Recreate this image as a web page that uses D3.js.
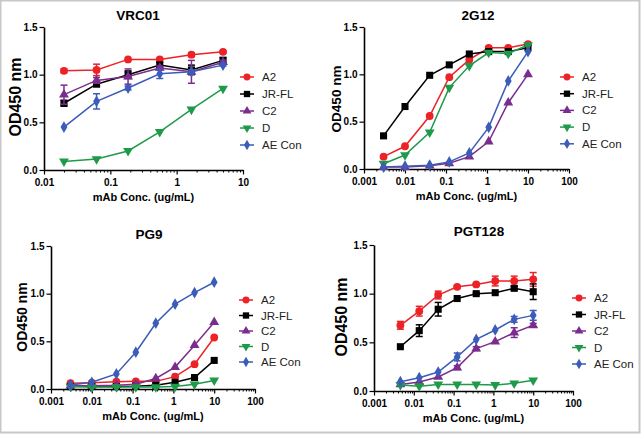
<!DOCTYPE html>
<html>
<head>
<meta charset="utf-8">
<script src="https://cdn.jsdelivr.net/npm/d3@7"></script>
<style>
  body { margin: 0; background: #fff; }
  svg { display: block; font-family: "Liberation Sans", Arial, sans-serif; }
</style>
</head>
<body>
<svg id="chart"></svg>
<script>
const width = 642;
const height = 436;

const seriesNames = ["A2", "JR-FL", "C2", "D", "AE Con"];
const seriesColors = ["#ec2227", "#000000", "#7b2d8e", "#1f9a4b", "#3b5cb8"];
const seriesSymbols = [d3.symbolCircle, d3.symbolSquare, d3.symbolTriangle, "down", d3.symbolDiamond];

const yTicks = [0, 0.5, 1.0, 1.5];

// concentrations (ug/mL)
const concVRC01 = [0.02, 0.062, 0.185, 0.556, 1.67, 5];
const conc2G12 = [0.003, 0.01, 0.04, 0.12, 0.37, 1.1, 3.3, 10];
const concPG9 = [0.003, 0.01, 0.04, 0.12, 0.37, 1.1, 3.3, 10];
const concPGT128 = [0.0046, 0.0137, 0.041, 0.123, 0.37, 1.11, 3.33, 10];

// VRC01
const vrc01A2 = [1.04, 1.05, 1.16, 1.16, 1.21, 1.24];
const vrc01JRFL = [0.70, 0.90, 1.00, 1.10, 1.05, 1.15];
const vrc01C2 = [0.79, 0.94, 0.98, 1.07, 1.03, 1.13];
const vrc01D = [0.09, 0.115, 0.20, 0.40, 0.635, 0.855];
const vrc01AE = [0.45, 0.72, 0.86, 1.01, 1.03, 1.10];
const vrc01A2Err = [0.02, 0.06, 0, 0, 0.02, 0.01];
const vrc01JRFLErr = [0.03, 0.02, 0.04, 0.03, 0.05, 0.03];
const vrc01C2Err = [0.1, 0.03, 0.08, 0.02, 0.12, 0.02];
const vrc01DErr = [0, 0, 0, 0, 0, 0];
const vrc01AEErr = [0, 0.08, 0.02, 0.05, 0.02, 0.01];

// 2G12
const g12A2 = [0.13, 0.24, 0.56, 0.97, 1.155, 1.28, 1.28, 1.32];
const g12JRFL = [0.35, 0.66, 0.99, 1.10, 1.215, 1.24, 1.24, 1.28];
const g12C2 = [0.02, 0.02, 0.035, 0.06, 0.13, 0.29, 0.70, 1.0];
const g12D = [0.056, 0.148, 0.387, 0.86, 1.09, 1.23, 1.22, 1.31];
const g12AE = [0.02, 0.03, 0.04, 0.075, 0.17, 0.44, 0.93, 1.24];

// PG9
const pg9A2 = [0.06, 0.066, 0.077, 0.08, 0.08, 0.13, 0.26, 0.54];
const pg9JRFL = [0.025, 0.025, 0.025, 0.03, 0.04, 0.07, 0.12, 0.30];
const pg9C2 = [0.035, 0.035, 0.04, 0.05, 0.11, 0.23, 0.46, 0.70];
const pg9D = [0.025, 0.02, 0.02, 0.02, 0.02, 0.025, 0.05, 0.09];
const pg9AE = [0.042, 0.07, 0.158, 0.386, 0.69, 0.89, 1.01, 1.12];

// PGT128
const pgt128A2 = [0.675, 0.82, 0.986, 1.07, 1.095, 1.13, 1.13, 1.147];
const pgt128JRFL = [0.455, 0.62, 0.84, 0.95, 1.0, 1.01, 1.055, 1.02];
const pgt128C2 = [0.068, 0.092, 0.144, 0.24, 0.435, 0.507, 0.60, 0.675];
const pgt128D = [0.062, 0.05, 0.068, 0.068, 0.068, 0.062, 0.079, 0.11];
const pgt128AE = [0.096, 0.137, 0.195, 0.35, 0.53, 0.627, 0.736, 0.777];
const pgt128A2Err = [0.04, 0.05, 0.04, 0.01, 0.01, 0.05, 0.05, 0.07];
const pgt128JRFLErr = [0, 0.06, 0.07, 0, 0.01, 0, 0.02, 0.08];
const pgt128C2Err = [0, 0, 0, 0.02, 0.02, 0, 0.05, 0.02];
const pgt128DErr = [0, 0, 0, 0, 0, 0, 0, 0];
const pgt128AEErr = [0, 0, 0, 0.04, 0, 0, 0.03, 0.05];

const noErr = [0, 0, 0, 0, 0, 0, 0, 0];

const panels = [
  {
    title: "VRC01", conc: concVRC01, xDomain: [0.01, 10],
    values: [vrc01A2, vrc01JRFL, vrc01C2, vrc01D, vrc01AE],
    errors: [vrc01A2Err, vrc01JRFLErr, vrc01C2Err, vrc01DErr, vrc01AEErr],
    x0: 44, x1: 243, yTop: 27, yBottom: 170,
    titleX: 138, titleY: 20, yLabelX: 21, yLabelY: 97, yLabelSize: 16,
    legendX: 247, legendY: 77, legendStep: 17
  },
  {
    title: "2G12", conc: conc2G12, xDomain: [0.001, 100],
    values: [g12A2, g12JRFL, g12C2, g12D, g12AE],
    errors: [noErr, noErr, noErr, noErr, noErr],
    x0: 364, x1: 569, yTop: 27, yBottom: 169,
    titleX: 478, titleY: 20, yLabelX: 341, yLabelY: 99, yLabelSize: 13.5,
    legendX: 567, legendY: 77, legendStep: 16.7
  },
  {
    title: "PG9", conc: concPG9, xDomain: [0.001, 100],
    values: [pg9A2, pg9JRFL, pg9C2, pg9D, pg9AE],
    errors: [noErr, noErr, noErr, noErr, noErr],
    x0: 51, x1: 255, yTop: 246, yBottom: 389,
    titleX: 149, titleY: 239, yLabelX: 27, yLabelY: 317, yLabelSize: 14,
    legendX: 246, legendY: 300, legendStep: 15.5
  },
  {
    title: "PGT128", conc: concPGT128, xDomain: [0.001, 100],
    values: [pgt128A2, pgt128JRFL, pgt128C2, pgt128D, pgt128AE],
    errors: [pgt128A2Err, pgt128JRFLErr, pgt128C2Err, pgt128DErr, pgt128AEErr],
    x0: 374, x1: 573, yTop: 245, yBottom: 391,
    titleX: 479, titleY: 236, yLabelX: 347, yLabelY: 317, yLabelSize: 16,
    legendX: 579, legendY: 298, legendStep: 16.5
  }
];

const svg = d3.select("#chart").attr("width", width).attr("height", height);

svg.append("rect")
  .attr("x", 0.5).attr("y", 0.5)
  .attr("width", 639).attr("height", 432)
  .attr("fill", "#fff")
  .attr("stroke", "#c8c8c8")
  .attr("stroke-width", 2);

function symbolPath(sym, size) {
  if (sym === "down") {
    return d3.symbol(d3.symbolTriangle, size)();
  }
  return d3.symbol(sym, size)();
}
const symbolSizes = [48, 50, 42, 42, 40];

panels.forEach((p) => {
  const g = svg.append("g");

  const xScale = d3.scaleLog().domain(p.xDomain).range([p.x0, p.x1]);
  const yScale = d3.scaleLinear().domain([0, 1.5]).range([p.yBottom, p.yTop]);

  // decades and minor ticks
  const decades = [];
  const minors = [];
  for (let e = Math.round(Math.log10(p.xDomain[0])); e <= Math.round(Math.log10(p.xDomain[1])); e++) {
    decades.push(Math.pow(10, e));
    if (Math.pow(10, e) < p.xDomain[1]) {
      for (let k = 2; k <= 9; k++) minors.push(k * Math.pow(10, e));
    }
  }

  const fmt = (d) => (d >= 1 ? d3.format("d")(d) : String(+d.toPrecision(1)));

  g.append("g")
    .attr("transform", `translate(0,${p.yBottom})`)
    .call(d3.axisBottom(xScale).tickValues(minors).tickFormat("").tickSize(2.5).tickSizeOuter(0))
    .call((a) => a.select(".domain").remove());

  const xAxis = g.append("g")
    .attr("transform", `translate(0,${p.yBottom})`)
    .call(d3.axisBottom(xScale).tickValues(decades).tickFormat(fmt).tickSize(4.5).tickSizeOuter(0).tickPadding(4));

  const yAxis = g.append("g")
    .attr("transform", `translate(${p.x0},0)`)
    .call(d3.axisLeft(yScale).tickValues(yTicks).tickFormat(d3.format(".1f")).tickSize(4.5).tickSizeOuter(0).tickPadding(2));

  [xAxis, yAxis].forEach((a) => {
    a.select(".domain").attr("stroke-width", 1.6);
    a.selectAll(".tick line").attr("stroke-width", 1.2);
    a.selectAll(".tick text")
      .attr("font-size", 10)
      .attr("font-weight", "bold")
      .attr("font-family", "'Liberation Sans', Arial, sans-serif")
      .attr("fill", "#000");
  });
  g.selectAll(".tick line").attr("stroke", "#000");

  // title
  g.append("text")
    .attr("x", p.titleX).attr("y", p.titleY)
    .attr("text-anchor", "middle")
    .attr("font-size", 13.5).attr("font-weight", "bold")
    .text(p.title);

  // axis labels
  g.append("text")
    .attr("x", (p.x0 + p.x1) / 2).attr("y", p.yBottom + 31)
    .attr("text-anchor", "middle")
    .attr("font-size", 11).attr("font-weight", "bold")
    .text("mAb Conc. (ug/mL)");

  g.append("text")
    .attr("transform", `translate(${p.yLabelX},${p.yLabelY}) rotate(-90)`)
    .attr("text-anchor", "middle")
    .attr("font-size", p.yLabelSize).attr("font-weight", "bold")
    .text("OD450 nm");

  // series
  p.values.forEach((vals, si) => {
    const color = seriesColors[si];
    const pts = vals.map((v, i) => ({ x: p.conc[i], y: v, e: p.errors[si][i] }));
    const sg = g.append("g");

    sg.append("path")
      .datum(pts)
      .attr("fill", "none")
      .attr("stroke", color)
      .attr("stroke-width", 1.5)
      .attr("d", d3.line().x((d) => xScale(d.x)).y((d) => yScale(d.y)));

    const bars = sg.selectAll(".err")
      .data(pts.filter((d) => d.e > 0))
      .enter().append("g");
    bars.append("line")
      .attr("x1", (d) => xScale(d.x)).attr("x2", (d) => xScale(d.x))
      .attr("y1", (d) => yScale(d.y - d.e)).attr("y2", (d) => yScale(d.y + d.e))
      .attr("stroke", color).attr("stroke-width", 1.5);
    [-1, 1].forEach((s) => {
      bars.append("line")
        .attr("x1", (d) => xScale(d.x) - 3.5).attr("x2", (d) => xScale(d.x) + 3.5)
        .attr("y1", (d) => yScale(d.y + s * d.e)).attr("y2", (d) => yScale(d.y + s * d.e))
        .attr("stroke", color).attr("stroke-width", 1.5);
    });

    sg.selectAll(".pt")
      .data(pts)
      .enter().append("path")
      .attr("d", symbolPath(seriesSymbols[si], symbolSizes[si]))
      .attr("transform", (d) =>
        `translate(${xScale(d.x)},${yScale(d.y)})` + (seriesSymbols[si] === "down" ? " rotate(180)" : ""))
      .attr("fill", color);

    // legend
    const ly = p.legendY + si * p.legendStep;
    g.append("line")
      .attr("x1", p.legendX - 7).attr("x2", p.legendX + 7)
      .attr("y1", ly).attr("y2", ly)
      .attr("stroke", color).attr("stroke-width", 1.5);
    g.append("path")
      .attr("d", symbolPath(seriesSymbols[si], symbolSizes[si] * 0.8))
      .attr("transform", `translate(${p.legendX},${ly})` + (seriesSymbols[si] === "down" ? " rotate(180)" : ""))
      .attr("fill", color);
    g.append("text")
      .attr("x", p.legendX + 15).attr("y", ly + 4)
      .attr("font-size", 11.5)
      .attr("fill", "#222")
      .text(seriesNames[si]);
  });
});
</script>
</body>
</html>
